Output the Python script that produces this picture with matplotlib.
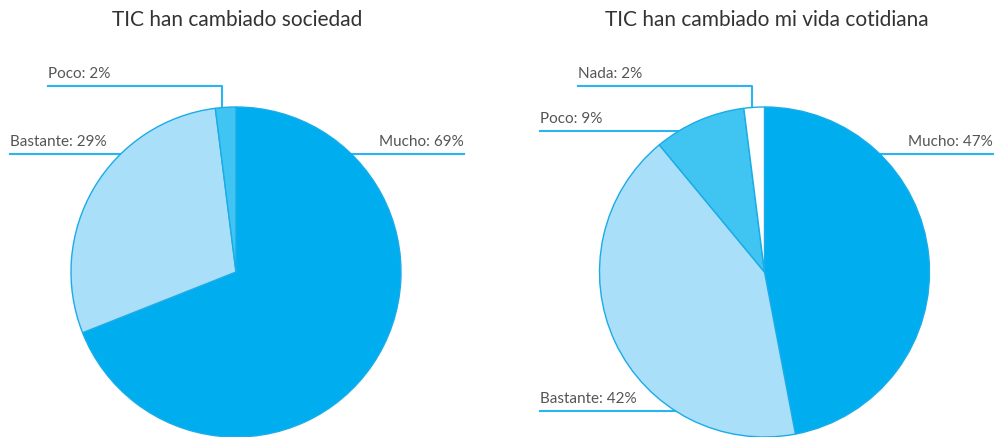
import matplotlib
matplotlib.use("Agg")
import matplotlib.pyplot as plt
import numpy as np

# Data
titles = ["TIC han cambiado sociedad", "TIC han cambiado mi vida cotidiana"]
left_labels = ["Mucho", "Bastante", "Poco"]
left_values = [69, 29, 2]
right_labels = ["Mucho", "Bastante", "Poco", "Nada"]
right_values = [47, 42, 9, 2]

colors = {"Mucho": "#00AEEF", "Bastante": "#A9DFF8", "Poco": "#40C5F3", "Nada": "#FFFFFF"}
edge = "#1AACE8"
line_c = "#29B6F0"
text_c = "#555555"
plt.rcParams['font.family'] = ['Lato', 'DejaVu Sans']

W, H = 999, 437
fig = plt.figure(figsize=(W / 100, H / 100), dpi=100)
ax = fig.add_axes([0, 0, 1, 1])
ax.set_xlim(0, W)
ax.set_ylim(0, H)
ax.set_aspect('equal')
ax.axis('off')

R = 165

def Y(y):
    return H - y

def draw_pie(cx, cy, labels, values):
    ax.pie(values, colors=[colors[l] for l in labels], startangle=90, counterclock=False,
           center=(cx, Y(cy)), radius=R, frame=True,
           wedgeprops=dict(edgecolor=edge, linewidth=1.0))

def edge_x(cx, cy, y, side):
    dy = y - cy
    return cx + side * np.sqrt(max(R * R - dy * dy, 0))

def label(text, x, y, ha):
    ax.text(x, Y(y - 5), text, ha=ha, va='bottom', fontsize=11, color=text_c)

# Left pie
lcx, lcy = 236, 272
draw_pie(lcx, lcy, left_labels, left_values)
# Mucho
y = 154
ax.plot([edge_x(lcx, lcy, y, 1) - 6, 464], [Y(y), Y(y)], color=line_c, lw=1.5, zorder=0)
label(f"{left_labels[0]}: {left_values[0]}%", 464, y, 'right')
# Bastante
ax.plot([10, edge_x(lcx, lcy, y, -1) + 6], [Y(y), Y(y)], color=line_c, lw=1.5, zorder=0)
label(f"{left_labels[1]}: {left_values[1]}%", 10, y, 'left')
# Poco
y = 86
ax.plot([48, 222, 222], [Y(y), Y(y), Y(112)], color=line_c, lw=1.5, zorder=0)
label(f"{left_labels[2]}: {left_values[2]}%", 48, y, 'left')

# Right pie
rcx, rcy = 764.5, 272
draw_pie(rcx, rcy, right_labels, right_values)
y = 154
ax.plot([edge_x(rcx, rcy, y, 1) - 6, 993], [Y(y), Y(y)], color=line_c, lw=1.5, zorder=0)
label(f"{right_labels[0]}: {right_values[0]}%", 993, y, 'right')
y = 411
ax.plot([540, edge_x(rcx, rcy, y, -1) + 6], [Y(y), Y(y)], color=line_c, lw=1.5, zorder=0)
label(f"{right_labels[1]}: {right_values[1]}%", 540, y, 'left')
y = 131
ax.plot([540, 680], [Y(y), Y(y)], color=line_c, lw=1.5, zorder=0)
label(f"{right_labels[2]}: {right_values[2]}%", 540, y, 'left')
y = 86
ax.plot([578, 752, 752], [Y(y), Y(y), Y(110)], color=line_c, lw=1.5, zorder=0)
label(f"{right_labels[3]}: {right_values[3]}%", 578, y, 'left')

ax.text(237, Y(20), titles[0], ha='center', va='center', fontsize=15, color="#333333")
ax.text(767, Y(20), titles[1], ha='center', va='center', fontsize=15, color="#333333")

ax.set_xlim(0, W)
ax.set_ylim(0, H)
fig.savefig("out.png", dpi=100)
